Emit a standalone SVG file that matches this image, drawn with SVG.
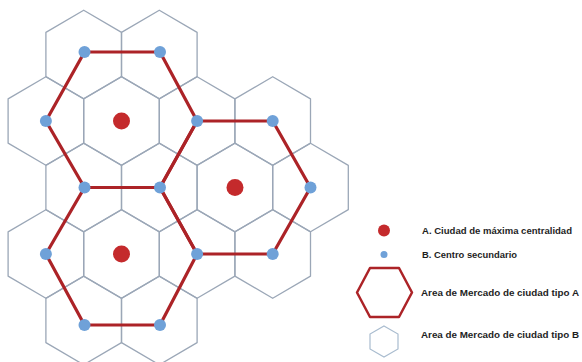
<svg xmlns="http://www.w3.org/2000/svg" xmlns:xlink="http://www.w3.org/1999/xlink" width="582" height="362" viewBox="0 0 582 362">
<style>
.cell{fill:none;stroke:#9ba7b7;stroke-width:1.3;stroke-linejoin:round}
.areaA{fill:none;stroke:#ac2327;stroke-width:3.2;stroke-linejoin:round}
.cityA{fill:#c42a2c}
.cityB{fill:#6fa1d8}
.lbl{font-family:"Liberation Sans",Arial,sans-serif;font-size:9px;font-weight:bold;fill:#1e1e1e}
</style>
<defs>
<path id="hx" d="M0,-44.3 L37.8,-22.15 L37.8,22.15 L0,44.3 L-37.8,22.15 L-37.8,-22.15 Z"/>
</defs>
<rect width="582" height="362" fill="#ffffff"/>
<g id="grid-tipo-B">
<use xlink:href="#hx" class="cell" x="83.7" y="54.5"/>
<use xlink:href="#hx" class="cell" x="159.3" y="54.5"/>
<use xlink:href="#hx" class="cell" x="45.9" y="121"/>
<use xlink:href="#hx" class="cell" x="121.5" y="121"/>
<use xlink:href="#hx" class="cell" x="197.1" y="121"/>
<use xlink:href="#hx" class="cell" x="272.7" y="121"/>
<use xlink:href="#hx" class="cell" x="83.7" y="187.5"/>
<use xlink:href="#hx" class="cell" x="159.3" y="187.5"/>
<use xlink:href="#hx" class="cell" x="234.9" y="187.5"/>
<use xlink:href="#hx" class="cell" x="310.5" y="187.5"/>
<use xlink:href="#hx" class="cell" x="45.9" y="254"/>
<use xlink:href="#hx" class="cell" x="121.5" y="254"/>
<use xlink:href="#hx" class="cell" x="197.1" y="254"/>
<use xlink:href="#hx" class="cell" x="272.7" y="254"/>
<use xlink:href="#hx" class="cell" x="83.7" y="320.5"/>
<use xlink:href="#hx" class="cell" x="159.3" y="320.5"/>
</g>
<g id="connectors">
<polygon class="areaA" points="45.9,121 84.5,52 160,52 197.1,121 160,187.5 84.5,187.5"/>
<polygon class="areaA" points="160,187.5 197.1,121 272.7,121 310.5,187.5 272.7,254 197.1,254"/>
<polygon class="areaA" points="45.9,254 84.5,187.5 160,187.5 197.1,254 160,325 84.5,325"/>
</g>
<g id="cityA1"><circle class="cityA" cx="121.5" cy="121" r="8.5"/></g>
<g id="cityA2"><circle class="cityA" cx="235" cy="187.5" r="8.5"/></g>
<g id="cityA3"><circle class="cityA" cx="121.5" cy="254" r="8.5"/></g>
<g id="centrosB">
<g id="b1"><circle class="cityB" cx="84.5" cy="52" r="6"/></g>
<g id="b2"><circle class="cityB" cx="160" cy="52" r="6"/></g>
<g id="b3"><circle class="cityB" cx="45.9" cy="121" r="6"/></g>
<g id="b4"><circle class="cityB" cx="197.1" cy="121" r="6"/></g>
<g id="b5"><circle class="cityB" cx="272.7" cy="121" r="6"/></g>
<g id="b6"><circle class="cityB" cx="84.5" cy="187.5" r="6"/></g>
<g id="b7"><circle class="cityB" cx="160" cy="187.5" r="6"/></g>
<g id="b8"><circle class="cityB" cx="310.5" cy="187.5" r="6"/></g>
<g id="b9"><circle class="cityB" cx="45.9" cy="254" r="6"/></g>
<g id="b10"><circle class="cityB" cx="197.1" cy="254" r="6"/></g>
<g id="b11"><circle class="cityB" cx="272.7" cy="254" r="6"/></g>
<g id="b12"><circle class="cityB" cx="84.5" cy="325" r="6"/></g>
<g id="b13"><circle class="cityB" cx="160" cy="325" r="6"/></g>
</g>
<g id="legend">
<g id="leg-A"><circle class="cityA" cx="384" cy="230.5" r="6"/><text class="lbl" x="422" y="233.5" textLength="150" lengthAdjust="spacingAndGlyphs">A. Ciudad de máxima centralidad</text></g>
<g id="leg-B"><circle class="cityB" cx="384" cy="254.5" r="3.5"/><text class="lbl" x="422" y="257.5" textLength="95" lengthAdjust="spacingAndGlyphs">B. Centro secundario</text></g>
<g id="leg-areaA"><polygon points="357,292.5 370,268 399,268 412,292.5 399,317 370,317" fill="none" stroke="#ac2327" stroke-width="2.5" stroke-linejoin="round"/><text class="lbl" x="421" y="296" textLength="158" lengthAdjust="spacingAndGlyphs">Area de Mercado de ciudad tipo A</text></g>
<g id="leg-areaB"><polygon points="384,326 398,334 398,349 384,357 370,349 370,334" fill="none" stroke="#a9bccf" stroke-width="1.2"/><text class="lbl" x="421" y="338" textLength="158" lengthAdjust="spacingAndGlyphs">Area de Mercado de ciudad tipo B</text></g>
</g>
</svg>
